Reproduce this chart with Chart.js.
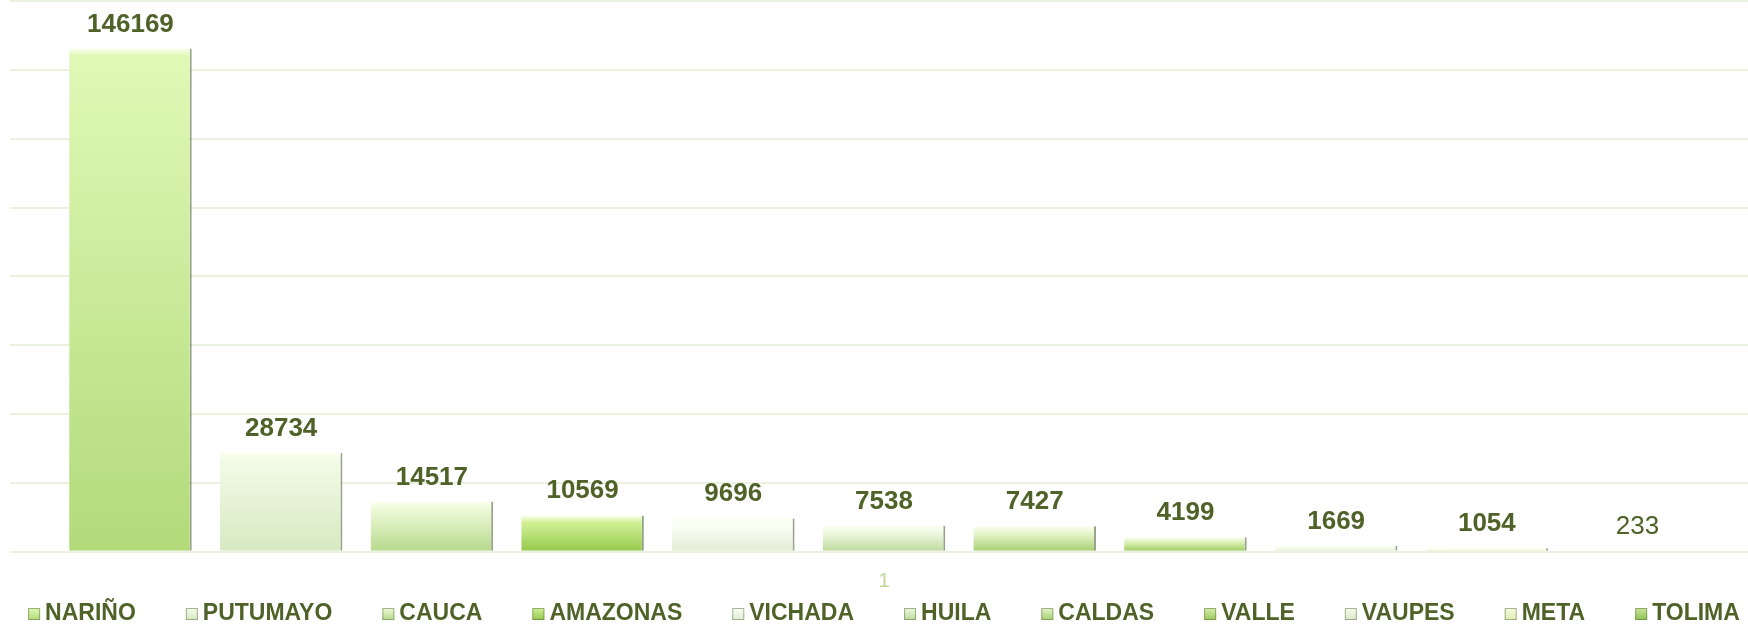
<!DOCTYPE html>
<html lang="es">
<head>
  <meta charset="UTF-8" />
  <title>Departamentos</title>
  <script src="https://cdn.jsdelivr.net/npm/chart.js"></script>
  <style>
    html, body { margin: 0; padding: 0; background: #fff; overflow: hidden; }
    #wrap { width: 1768px; height: 624px; }
  </style>
</head>
<body>

<div id="wrap">
  <canvas id="barChart" width="1768" height="624"></canvas>
</div>

<script>
  // data
  const categories = ['1'];
  const regions = ['NARIÑO', 'PUTUMAYO', 'CAUCA', 'AMAZONAS', 'VICHADA', 'HUILA', 'CALDAS', 'VALLE', 'VAUPES', 'META', 'TOLIMA'];
  const values = [146169, 28734, 14517, 10569, 9696, 7538, 7427, 4199, 1669, 1054, 233];
  const yTicks = [0, 20000, 40000, 60000, 80000, 100000, 120000, 140000, 160000];

  // colours, top -> bottom of each bar
  const topColors = ['#e0f9b6', '#f3fbe8', '#eefad9', '#d2f196', '#fbfef6', '#eff9e2', '#e6f6cc', '#d8efb0', '#f7fbee', '#f7fbdf', '#cbe89c'];
  const bottomColors = ['#b2da7a', '#d6e9c0', '#b6d98c', '#94c84c', '#e2ecd3', '#bcd999', '#a6cf72', '#99c958', '#dbe6c8', '#e0edb4', '#8bc152'];
  const labelBold = [true, true, true, true, true, true, true, true, true, true, false];

  const textColor = '#4f6228';
  const font = '"Liberation Sans", Arial, sans-serif';

  function barFill(c) {
    const chart = c.chart;
    const i = c.datasetIndex;
    if (!chart.chartArea || !chart.scales.y) return topColors[i];
    const y = chart.scales.y;
    const top = y.getPixelForValue(c.raw);
    const base = y.getPixelForValue(0);
    const h = Math.max(base - top, 1);
    const g = chart.ctx.createLinearGradient(0, top, 0, base);
    g.addColorStop(0, '#fbfff0');
    g.addColorStop(Math.min(7 / h, 0.4), topColors[i]);
    g.addColorStop(1, bottomColors[i]);
    return g;
  }

  // value labels above the bars
  const valueLabels = {
    id: 'valueLabels',
    afterDatasetsDraw(chart) {
      const ctx = chart.ctx;
      ctx.save();
      ctx.fillStyle = textColor;
      ctx.textAlign = 'center';
      ctx.textBaseline = 'alphabetic';
      chart.data.datasets.forEach((ds, i) => {
        const el = chart.getDatasetMeta(i).data[0];
        ctx.font = (labelBold[i] ? 'bold ' : '') + '26px ' + font;
        ctx.fillText(String(ds.data[0]), el.x, el.y - 17);
      });
      ctx.restore();
    }
  };

  // single-row legend at the bottom
  const flatLegend = {
    id: 'flatLegend',
    afterDraw(chart) {
      const ctx = chart.ctx;
      const box = 12, gapText = 5, gapItem = 50, yMid = 614;
      ctx.save();
      ctx.font = 'bold 23px ' + font;
      const widths = regions.map(r => ctx.measureText(r).width);
      const total = widths.reduce((a, w) => a + box + gapText + w, 0) + gapItem * (regions.length - 1);
      let x = (chart.chartArea.left + chart.chartArea.right) / 2 - total / 2;
      ctx.textBaseline = 'middle';
      ctx.textAlign = 'left';
      regions.forEach((r, i) => {
        const g = ctx.createLinearGradient(0, yMid - box / 2, 0, yMid + box / 2);
        g.addColorStop(0, topColors[i]);
        g.addColorStop(1, bottomColors[i]);
        ctx.fillStyle = g;
        ctx.fillRect(x, yMid - box / 2, box, box);
        ctx.strokeStyle = 'rgba(90,110,60,0.5)';
        ctx.lineWidth = 1;
        ctx.strokeRect(x + 0.5, yMid - box / 2 + 0.5, box - 1, box - 1);
        ctx.fillStyle = textColor;
        ctx.fillText(r, x + box + gapText, yMid);
        x += box + gapText + widths[i] + gapItem;
      });
      ctx.restore();
    }
  };

  const ctxBar = document.getElementById('barChart').getContext('2d');
  new Chart(ctxBar, {
    type: 'bar',
    data: {
      labels: categories,
      datasets: regions.map((r, i) => ({
        label: r,
        data: [values[i]],
        backgroundColor: barFill,
        borderColor: 'rgba(70,85,45,0.55)',
        borderWidth: { top: 0, left: 0, bottom: 0, right: 2 },
        borderSkipped: false,
        barPercentage: 0.8135,
        categoryPercentage: 0.9484
      }))
    },
    options: {
      responsive: false,
      animation: false,
      layout: { padding: { top: 1, left: 10, right: 10, bottom: 13 } },
      plugins: {
        legend: { display: false },
        tooltip: { enabled: false }
      },
      scales: {
        x: {
          grid: { display: false, drawTicks: false },
          border: { display: false },
          ticks: { color: '#c4d79b', font: { size: 21, family: font }, padding: 17 }
        },
        y: {
          min: yTicks[0],
          max: yTicks[yTicks.length - 1],
          afterBuildTicks(axis) { axis.ticks = yTicks.map(v => ({ value: v })); },
          grid: { color: '#eaf1e0', lineWidth: 2, drawTicks: false },
          border: { display: false },
          ticks: { display: false }
        }
      }
    },
    plugins: [valueLabels, flatLegend]
  });
</script>

</body>
</html>
